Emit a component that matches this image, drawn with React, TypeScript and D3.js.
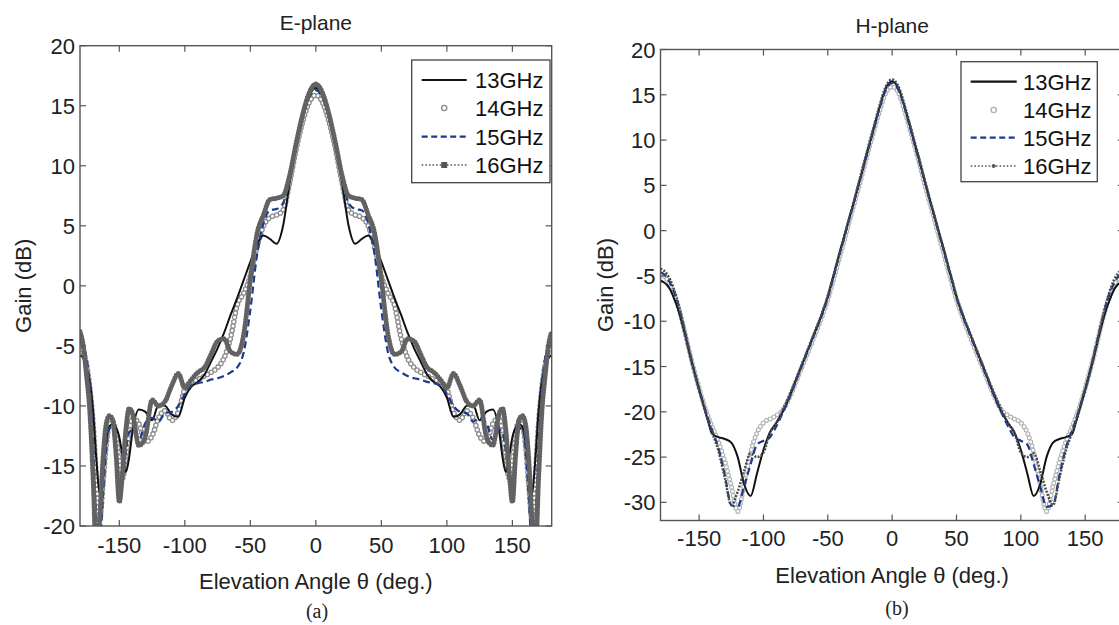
import React from 'react';
import * as d3 from 'd3';

// ---------- data ----------
const ANGLES = [-180,-177.5,-175,-172.5,-170,-167.5,-165,-162.5,-160,-157.5,-155,-152.5,-150,-147.5,-145,-142.5,-140,-135,-130,-125,-120,-115,-110,-105,-100,-95,-90,-85,-80,-75,-70,-65,-60,-55,-50,-45,-40,-35,-30,-25,-20,-15,-10,-5,0,5,10,15,20,25,30,35,40,45,50,55,60,65,70,75,80,85,90,95,100,105,110,115,120,125,130,135,140,142.5,145,147.5,150,152.5,155,157.5,160,162.5,165,167.5,170,172.5,175,177.5,180];

const E13 = [-5.8,-6.0,-6.8,-8.0,-10.5,-14.5,-17.3,-15.5,-13.0,-11.7,-11.5,-11.8,-12.6,-14.2,-15.5,-14.3,-12.2,-10.3,-10.5,-11.2,-9.9,-10.0,-10.7,-10.9,-9.3,-8.4,-8.0,-7.4,-6.3,-5.2,-3.9,-2.4,-1.0,0.5,2.0,3.4,4.2,3.9,3.5,5.0,8.6,11.6,14.0,15.8,
  16.5,15.8,14.0,11.6,8.6,5.0,3.5,3.9,4.2,3.4,2.0,0.5,-1.0,-2.4,-3.9,-5.2,-6.3,-7.4,-8.0,-8.4,-9.3,-10.9,-10.7,-10.0,-9.9,-11.2,-10.5,-10.3,-12.2,-14.3,-15.5,-14.2,-12.6,-11.8,-11.5,-11.7,-13.0,-15.5,-17.3,-14.5,-10.5,-8.0,-6.8,-6.0,-5.8];
const E14 = [-5.0,-5.5,-6.6,-8.5,-11.5,-16.0,-19.5,-16.5,-13.2,-11.6,-11.3,-12.3,-14.5,-16.0,-14.3,-12.3,-11.0,-11.5,-13.0,-12.5,-11.0,-10.4,-11.2,-10.5,-8.6,-8.0,-7.8,-7.5,-7.2,-6.8,-6.0,-4.3,-1.6,-0.6,0.8,3.2,5.0,5.7,5.9,6.3,8.6,11.4,13.7,15.3,
  15.9,15.3,13.7,11.4,8.6,6.3,5.9,5.7,5.0,3.2,0.8,-0.6,-1.6,-4.3,-6.0,-6.8,-7.2,-7.5,-7.8,-8.0,-8.6,-10.5,-11.2,-10.4,-11.0,-12.5,-13.0,-11.5,-11.0,-12.3,-14.3,-16.0,-14.5,-12.3,-11.3,-11.6,-13.2,-16.5,-19.5,-16.0,-11.5,-8.5,-6.6,-5.5,-5.0];
const E15 = [-4.5,-5.0,-6.0,-8.5,-13.0,-20.0,-22.0,-17.5,-13.5,-11.8,-12.0,-14.5,-17.3,-16.2,-13.8,-12.2,-12.0,-12.8,-11.4,-11.0,-11.3,-10.6,-10.5,-10.0,-9.0,-8.3,-8.1,-8.0,-7.8,-7.7,-7.5,-7.2,-6.8,-5.5,-2.0,2.5,5.2,6.3,6.4,6.9,9.0,11.6,14.0,15.7,
  16.3,15.7,14.0,11.6,9.0,6.9,6.4,6.3,5.2,2.5,-2.0,-5.5,-6.8,-7.2,-7.5,-7.7,-7.8,-8.0,-8.1,-8.3,-9.0,-10.0,-10.5,-10.6,-11.3,-11.0,-11.4,-12.8,-12.0,-12.2,-13.8,-16.2,-17.3,-14.5,-12.0,-11.8,-13.5,-17.5,-22.0,-20.0,-13.0,-8.5,-6.0,-5.0,-4.5];
const E16 = [-3.8,-5.0,-7.5,-10.5,-16.0,-22.5,-19.5,-14.5,-11.5,-10.8,-11.2,-14.0,-18.0,-15.5,-12.0,-10.2,-10.6,-13.3,-12.5,-9.5,-10.0,-9.6,-8.3,-7.3,-8.5,-7.8,-7.2,-6.8,-5.7,-4.6,-4.4,-5.5,-5.7,-4.0,0.5,4.3,5.9,7.2,7.3,7.5,9.2,11.9,14.3,16.1,
  16.8,16.1,14.3,11.9,9.2,7.5,7.3,7.2,5.9,4.3,0.5,-4.0,-5.7,-5.5,-4.4,-4.6,-5.7,-6.8,-7.2,-7.8,-8.5,-7.3,-8.3,-9.6,-10.0,-9.5,-12.5,-13.3,-10.6,-10.2,-12.0,-15.5,-18.0,-14.0,-11.2,-10.8,-11.5,-14.5,-19.5,-22.5,-16.0,-10.5,-7.5,-5.0,-3.8];

const H13 = [-5.5,-5.7,-6.0,-6.5,-7.3,-8.2,-9.3,-10.6,-12.0,-13.5,-14.9,-16.2,-17.5,-18.8,-20.1,-21.3,-22.4,-22.8,-23.0,-23.4,-25.0,-28.0,-29.3,-26.8,-24.2,-22.3,-21.2,-20.0,-18.4,-16.6,-14.8,-13.0,-11.2,-9.4,-7.3,-4.7,-2.0,0.5,3.0,5.6,8.3,10.9,13.5,15.7,
  16.5,15.7,13.5,10.9,8.3,5.6,3.0,0.5,-2.0,-4.7,-7.3,-9.4,-11.2,-13.0,-14.8,-16.6,-18.4,-20.0,-21.2,-22.3,-24.2,-26.8,-29.3,-28.0,-25.0,-23.4,-23.0,-22.8,-22.4,-21.3,-20.1,-18.8,-17.5,-16.2,-14.9,-13.5,-12.0,-10.6,-9.3,-8.2,-7.3,-6.5,-6.0,-5.7,-5.5];
const H14 = [-4.8,-5.0,-5.4,-6.0,-6.8,-7.8,-9.0,-10.4,-11.9,-13.4,-14.8,-16.1,-17.4,-18.6,-19.7,-20.7,-21.6,-23.3,-25.5,-28.2,-31.0,-28.0,-24.5,-22.3,-21.2,-20.8,-20.4,-19.8,-18.5,-16.8,-15.0,-13.3,-11.5,-9.7,-7.6,-5.1,-2.5,0.1,2.7,5.3,8.0,10.6,13.1,15.2,
  15.9,15.2,13.1,10.6,8.0,5.3,2.7,0.1,-2.5,-5.1,-7.6,-9.7,-11.5,-13.3,-15.0,-16.8,-18.5,-19.8,-20.4,-20.8,-21.2,-22.3,-24.5,-28.0,-31.0,-28.2,-25.5,-23.3,-21.6,-20.7,-19.7,-18.6,-17.4,-16.1,-14.8,-13.4,-11.9,-10.4,-9.0,-7.8,-6.8,-6.0,-5.4,-5.0,-4.8];
const H15 = [-4.6,-4.8,-5.2,-5.8,-6.6,-7.6,-8.9,-10.3,-11.8,-13.3,-14.8,-16.2,-17.5,-18.7,-19.9,-21.0,-22.0,-24.0,-27.0,-30.3,-30.5,-28.2,-25.8,-23.6,-23.2,-22.8,-21.6,-20.1,-18.5,-16.7,-14.9,-13.1,-11.3,-9.5,-7.4,-4.8,-2.2,0.4,3.0,5.6,8.2,10.8,13.4,15.5,
  16.3,15.5,13.4,10.8,8.2,5.6,3.0,0.4,-2.2,-4.8,-7.4,-9.5,-11.3,-13.1,-14.9,-16.7,-18.5,-20.1,-21.6,-22.8,-23.2,-23.6,-25.8,-28.2,-30.5,-30.3,-27.0,-24.0,-22.0,-21.0,-19.9,-18.7,-17.5,-16.2,-14.8,-13.3,-11.8,-10.3,-8.9,-7.6,-6.6,-5.8,-5.2,-4.8,-4.6];
const H16 = [-4.2,-4.4,-4.8,-5.4,-6.3,-7.4,-8.7,-10.2,-11.8,-13.4,-14.9,-16.3,-17.6,-18.8,-20.0,-21.1,-22.2,-24.3,-27.3,-30.3,-28.8,-26.5,-24.6,-25.0,-24.5,-22.3,-21.3,-19.8,-18.2,-16.5,-14.7,-12.9,-11.1,-9.3,-7.2,-4.6,-2.1,0.5,3.1,5.8,8.5,11.1,13.7,15.9,
  16.7,15.9,13.7,11.1,8.5,5.8,3.1,0.5,-2.1,-4.6,-7.2,-9.3,-11.1,-12.9,-14.7,-16.5,-18.2,-19.8,-21.3,-22.3,-24.5,-25.0,-24.6,-26.5,-28.8,-30.3,-27.3,-24.3,-22.2,-21.1,-20.0,-18.8,-17.6,-16.3,-14.9,-13.4,-11.8,-10.2,-8.7,-7.4,-6.3,-5.4,-4.8,-4.4,-4.2];

const SERIES_NAMES = ['13GHz', '14GHz', '15GHz', '16GHz'];
const X_TICKS = [-150, -100, -50, 0, 50, 100, 150];
const E_Y_TICKS = [-20, -15, -10, -5, 0, 5, 10, 15, 20];
const H_Y_TICKS = [-30, -25, -20, -15, -10, -5, 0, 5, 10, 15, 20];

const FONT = '"Liberation Sans", Arial, Helvetica, sans-serif';
const NAVY = '#1b3a8c';

type Style = {
  kind: 'line' | 'rings';
  color: string;
  width: number;
  dash?: string;
  inner?: number;
  cap?: string;
};

type PanelProps = {
  id: string;
  x0: number; x1: number; y0: number; y1: number;
  yMin: number; yMax: number; yTicks: number[];
  series: number[][];
  styles: Style[];
  title: string; titleY: number;
  xLabelY: number; tickLabelY: number;
  yLabelX: number;
  caption: string; captionX: number; captionY: number;
  legend: { x: number; y: number; w: number; h: number; rows: number[]; s0: number; s1: number; tx: number; marker16: 'square' | 'dot' };
};

function Panel(p: PanelProps) {
  const xs = d3.scaleLinear().domain([-180, 180]).range([p.x0, p.x1]);
  const ys = d3.scaleLinear().domain([p.yMin, p.yMax]).range([p.y1, p.y0]);
  const line = d3.line<[number, number]>()
    .x((d) => xs(d[0]))
    .y((d) => ys(d[1]))
    .curve(d3.curveMonotoneX);
  const order = [1, 0, 2, 3];
  const axisColor = '#555';
  const tickLen = 6;
  const cx = xs(0);
  return (
    <g>
      <defs>
        <clipPath id={`clip-${p.id}`}>
          <rect x={p.x0} y={p.y0} width={p.x1 - p.x0} height={p.y1 - p.y0} />
        </clipPath>
      </defs>
      <g clipPath={`url(#clip-${p.id})`}>
        {order.map((si) => {
          const pts = ANGLES.map((a, i) => [a, p.series[si][i]] as [number, number]);
          const d = line(pts) || '';
          const st = p.styles[si];
          if (st.kind === 'rings') {
            return (
              <g key={si}>
                <path d={d} fill="none" stroke={st.color} strokeWidth={st.width} strokeDasharray={st.dash} strokeLinecap="round" />
                <path d={d} fill="none" stroke="#fff" strokeWidth={st.inner} strokeDasharray={st.dash} strokeLinecap="round" />
              </g>
            );
          }
          return (
            <path key={si} d={d} fill="none" stroke={st.color} strokeWidth={st.width}
              strokeDasharray={st.dash} strokeLinecap={(st.cap as any) || 'butt'} strokeLinejoin="round" />
          );
        })}
      </g>
      {/* box */}
      <rect x={p.x0} y={p.y0} width={p.x1 - p.x0} height={p.y1 - p.y0} fill="none" stroke={axisColor} strokeWidth={1.4} />
      {X_TICKS.map((t) => (
        <g key={`xt${t}`}>
          <line x1={xs(t)} x2={xs(t)} y1={p.y1} y2={p.y1 - tickLen} stroke={axisColor} strokeWidth={1.2} />
          <line x1={xs(t)} x2={xs(t)} y1={p.y0} y2={p.y0 + tickLen} stroke={axisColor} strokeWidth={1.2} />
          <text x={xs(t)} y={p.tickLabelY} textAnchor="middle" fontSize={22} fontFamily={FONT} fill="#222">{t}</text>
        </g>
      ))}
      {p.yTicks.map((t) => (
        <g key={`yt${t}`}>
          <line x1={p.x0} x2={p.x0 + tickLen} y1={ys(t)} y2={ys(t)} stroke={axisColor} strokeWidth={1.2} />
          <line x1={p.x1} x2={p.x1 - tickLen} y1={ys(t)} y2={ys(t)} stroke={axisColor} strokeWidth={1.2} />
          <text x={p.x0 - 5} y={ys(t) + 8} textAnchor="end" fontSize={22} fontFamily={FONT} fill="#222">{t}</text>
        </g>
      ))}
      <text x={cx} y={p.titleY} textAnchor="middle" fontSize={21} fontFamily={FONT} fill="#222">{p.title}</text>
      <text x={cx} y={p.xLabelY} textAnchor="middle" fontSize={22} fontFamily={FONT} fill="#222">Elevation Angle θ (deg.)</text>
      <text transform={`translate(${p.yLabelX},${(p.y0 + p.y1) / 2}) rotate(-90)`} textAnchor="middle" fontSize={22} fontFamily={FONT} fill="#222">Gain (dB)</text>
      <text x={p.captionX} y={p.captionY} textAnchor="middle" fontSize={20} fontFamily='"Liberation Serif", "Times New Roman", serif' fill="#222">{p.caption}</text>
      {/* legend */}
      <g>
        <rect x={p.legend.x} y={p.legend.y} width={p.legend.w} height={p.legend.h} fill="#fff" stroke="#444" strokeWidth={1.3} />
        {SERIES_NAMES.map((name, i) => {
          const ry = p.legend.rows[i];
          const st = p.styles[i];
          const mid = (p.legend.s0 + p.legend.s1) / 2;
          let sample: React.ReactNode = null;
          if (i === 0) {
            sample = <line x1={p.legend.s0} x2={p.legend.s1} y1={ry} y2={ry} stroke={st.color} strokeWidth={2.2} />;
          } else if (i === 1) {
            sample = <circle cx={mid} cy={ry} r={2.6} fill="#fff" stroke={st.color} strokeWidth={1.4} />;
          } else if (i === 2) {
            sample = <line x1={p.legend.s0} x2={p.legend.s1} y1={ry} y2={ry} stroke={NAVY} strokeWidth={2.2} strokeDasharray="6 3.5" />;
          } else {
            sample = (
              <g>
                <line x1={p.legend.s0} x2={p.legend.s1} y1={ry} y2={ry} stroke="#555" strokeWidth={1.6} strokeDasharray="1.6 2" />
                {p.legend.marker16 === 'square'
                  ? <rect x={mid - 3} y={ry - 3} width={6} height={6} fill="#555" />
                  : <circle cx={mid} cy={ry} r={2} fill="#555" />}
              </g>
            );
          }
          return (
            <g key={name}>
              {sample}
              <text x={p.legend.tx} y={ry + 8} fontSize={22} fontFamily={FONT} fill="#111">{name}</text>
            </g>
          );
        })}
      </g>
    </g>
  );
}

export default function App() {
  const eStyles: Style[] = [
    { kind: 'line', color: '#111', width: 2 },
    { kind: 'rings', color: '#8c8c8c', width: 5.6, inner: 3.0, dash: '0 4.4' },
    { kind: 'line', color: NAVY, width: 2.2, dash: '7 4' },
    { kind: 'line', color: '#626262', width: 5, dash: '0 2.8', cap: 'round' },
  ];
  const hStyles: Style[] = [
    { kind: 'line', color: '#111', width: 2 },
    { kind: 'rings', color: '#b0b0b0', width: 5.0, inner: 2.8, dash: '0 4.2' },
    { kind: 'line', color: NAVY, width: 2.2, dash: '7 4' },
    { kind: 'line', color: '#4a4a4a', width: 2.5, dash: '2 1.4' },
  ];
  return (
    <svg width={1119} height={625} style={{ position: 'absolute', left: 0, top: 0, background: '#fff' }}>
      <rect x={0} y={0} width={1119} height={625} fill="#fff" />
      <Panel
        id="e" x0={80} x1={551.7} y0={45.7} y1={526} yMin={-20} yMax={20} yTicks={E_Y_TICKS}
        series={[E13, E14, E15, E16]} styles={eStyles}
        title="E-plane" titleY={30} xLabelY={589} tickLabelY={553} yLabelX={31}
        caption="(a)" captionX={317} captionY={618}
        legend={{ x: 411.7, y: 60, w: 138.3, h: 122.7, rows: [80, 108, 136.7, 165], s0: 421.7, s1: 466.7, tx: 475, marker16: 'square' }}
      />
      <Panel
        id="h" x0={660.5} x1={1123.8} y0={49.5} y1={520.5} yMin={-32} yMax={20} yTicks={H_Y_TICKS}
        series={[H13, H14, H15, H16]} styles={hStyles}
        title="H-plane" titleY={33} xLabelY={583} tickLabelY={546} yLabelX={613}
        caption="(b)" captionX={897} captionY={615}
        legend={{ x: 961, y: 61.7, w: 136.3, h: 120, rows: [81.7, 110, 137.7, 166], s0: 970.7, s1: 1016.7, tx: 1023, marker16: 'dot' }}
      />
    </svg>
  );
}
